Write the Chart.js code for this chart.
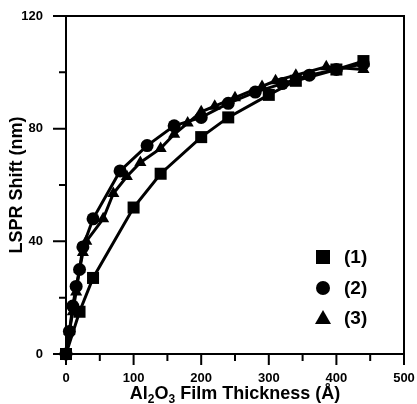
<!DOCTYPE html>
<html lang="en">
<head>
<meta charset="UTF-8">
<title>LSPR Shift vs Al2O3 Film Thickness</title>
<script src="https://cdn.jsdelivr.net/npm/chart.js"></script>
<style>
  html, body { margin: 0; padding: 0; background: #fff; }
  #wrap { width: 417px; height: 404px; }
</style>
</head>
<body>
<div id="wrap"><canvas id="lspr" width="417" height="404"></canvas></div>
<script>
// data (thickness in Å, shift in nm)
const thick1 = [0, 20, 40, 100, 140, 200, 240, 300, 340, 400, 440];
const shift1 = [0, 15, 27, 52, 64, 77, 84, 92, 97, 101, 104];

const thick2 = [0, 5, 10, 15, 20, 25, 40, 80, 120, 160, 200, 240, 280, 320, 360, 400, 440];
const shift2 = [0, 8, 17, 24, 30, 38, 48, 65, 74, 81, 84, 89, 93, 96, 99, 101, 103];

const thick3 = [0, 5, 10, 15, 20, 25, 30, 55, 70, 90, 110, 140, 160, 180, 200, 220, 250, 290, 310, 340, 385, 440];
const shift3 = [0, 8, 15, 22, 30, 36, 40, 48, 57, 63, 68, 73, 78, 82, 86, 88, 91, 95, 97, 99, 102, 101];

const xTicks = [0, 100, 200, 300, 400, 500];
const xMinor = [50, 150, 250, 350, 450];
const yTicks = [0, 40, 80, 120];
const yMinor = [20, 60, 100];

const seriesNames = ['(1)', '(2)', '(3)'];
const FONT = '"Liberation Sans", Arial, Helvetica, sans-serif';

function pts(xs, ys) {
  return xs.map((x, i) => ({ x: x, y: ys[i] }));
}

function makeSet(label, xs, ys, style, r) {
  return {
    label: label,
    data: pts(xs, ys),
    borderColor: '#000',
    backgroundColor: '#000',
    borderWidth: 3,
    pointStyle: style,
    pointRadius: r,
    pointBorderWidth: 0,
    tension: 0,
    clip: false
  };
}

// frame, minor/major tick marks, axis titles and legend
const decor = {
  id: 'decor',
  afterDraw(chart) {
    const ctx = chart.ctx;
    const a = chart.chartArea;
    const xs = chart.scales.x, ys = chart.scales.y;
    ctx.save();
    ctx.strokeStyle = '#000';
    ctx.fillStyle = '#000';
    ctx.lineWidth = 2;
    ctx.strokeRect(a.left, a.top, a.right - a.left, a.bottom - a.top);
    ctx.beginPath();
    xTicks.forEach(v => { const p = xs.getPixelForValue(v); ctx.moveTo(p, a.bottom); ctx.lineTo(p, a.bottom + 11); });
    xMinor.forEach(v => { const p = xs.getPixelForValue(v); ctx.moveTo(p, a.bottom); ctx.lineTo(p, a.bottom + 7); });
    yTicks.forEach(v => { const p = ys.getPixelForValue(v); ctx.moveTo(a.left, p); ctx.lineTo(a.left - 13, p); });
    yMinor.forEach(v => { const p = ys.getPixelForValue(v); ctx.moveTo(a.left, p); ctx.lineTo(a.left - 7, p); });
    ctx.stroke();

    // y title
    ctx.font = 'bold 18px ' + FONT;
    ctx.textAlign = 'center';
    ctx.textBaseline = 'middle';
    ctx.translate(17, (a.top + a.bottom) / 2);
    ctx.rotate(-Math.PI / 2);
    ctx.fillText('LSPR Shift (nm)', 0, 0);
    ctx.setTransform(1, 0, 0, 1, 0, 0);

    // x title with subscripts
    const parts = [['Al', 0], ['2', 1], ['O', 0], ['3', 1], [' Film Thickness (Å)', 0]];
    const big = 'bold 18px ' + FONT, small = 'bold 12px ' + FONT;
    let w = 0;
    parts.forEach(p => { ctx.font = p[1] ? small : big; w += ctx.measureText(p[0]).width; });
    let cx = (a.left + a.right) / 2 - w / 2;
    const base = 399;
    ctx.textAlign = 'left';
    ctx.textBaseline = 'alphabetic';
    parts.forEach(p => {
      ctx.font = p[1] ? small : big;
      ctx.fillText(p[0], cx, p[1] ? base + 4 : base);
      cx += ctx.measureText(p[0]).width;
    });

    // legend
    const lx = 323, ly = [257, 288, 318];
    ctx.font = 'bold 19px ' + FONT;
    ctx.textBaseline = 'middle';
    chart.data.datasets.forEach((ds, i) => {
      const y = ly[i];
      ctx.beginPath();
      if (ds.pointStyle === 'rect') {
        ctx.rect(lx - 7, y - 7, 14, 14);
      } else if (ds.pointStyle === 'circle') {
        ctx.arc(lx, y, 7, 0, Math.PI * 2);
      } else {
        ctx.moveTo(lx, y - 8);
        ctx.lineTo(lx + 8, y + 6);
        ctx.lineTo(lx - 8, y + 6);
        ctx.closePath();
      }
      ctx.fill();
      ctx.fillText(seriesNames[i], lx + 21, y + 1);
    });
    ctx.restore();
  }
};

new Chart(document.getElementById('lspr'), {
  type: 'line',
  data: {
    datasets: [
      makeSet(seriesNames[0], thick1, shift1, 'rect', 8.5),
      makeSet(seriesNames[1], thick2, shift2, 'circle', 6.5),
      makeSet(seriesNames[2], thick3, shift3, 'triangle', 7)
    ]
  },
  options: {
    responsive: false,
    animation: false,
    layout: { padding: { top: 16, right: 13, left: 0, bottom: 0 } },
    plugins: { legend: { display: false }, tooltip: { enabled: false } },
    scales: {
      x: {
        type: 'linear',
        min: 0, max: 500,
        grid: { display: false },
        border: { display: false },
        afterBuildTicks: s => { s.ticks = xTicks.map(v => ({ value: v })); },
        afterFit: s => { s.height = 50; s.paddingLeft = 0; s.paddingRight = 0; },
        ticks: { autoSkip: false, maxRotation: 0, padding: 9, color: '#000', font: { family: FONT, size: 13, weight: 'bold' } }
      },
      y: {
        type: 'linear',
        min: 0, max: 120,
        grid: { display: false },
        border: { display: false },
        afterBuildTicks: s => { s.ticks = yTicks.map(v => ({ value: v })); },
        afterFit: s => { s.width = 66; s.paddingTop = 0; s.paddingBottom = 0; },
        ticks: { autoSkip: false, padding: 15, color: '#000', font: { family: FONT, size: 13, weight: 'bold' } }
      }
    }
  },
  plugins: [decor]
});
</script>
</body>
</html>
